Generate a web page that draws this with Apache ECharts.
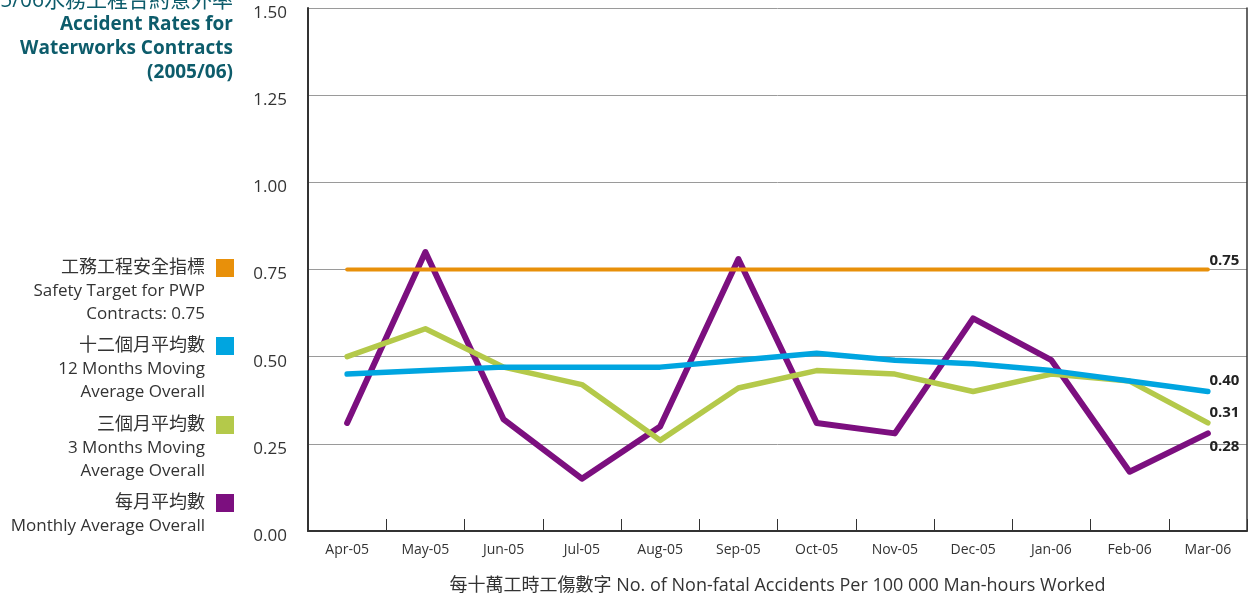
<!DOCTYPE html>
<html>
<head>
<meta charset="utf-8">
<script src="https://cdn.jsdelivr.net/npm/echarts@6/dist/echarts.min.js"></script>
<style>
  html, body { margin: 0; padding: 0; background: #ffffff; }
  #chart { width: 1260px; height: 598px; }
</style>
</head>
<body>
<div id="chart"></div>
<script>
// Monthly reporting periods, April 2005 to March 2006
const months = ['Apr-05', 'May-05', 'Jun-05', 'Jul-05', 'Aug-05', 'Sep-05',
                'Oct-05', 'Nov-05', 'Dec-05', 'Jan-06', 'Feb-06', 'Mar-06'];

// Accident rates per 100 000 man-hours
const safetyTarget   = [0.75, 0.75, 0.75, 0.75, 0.75, 0.75, 0.75, 0.75, 0.75, 0.75, 0.75, 0.75];
const movingAvg12    = [0.45, 0.46, 0.47, 0.47, 0.47, 0.49, 0.51, 0.49, 0.48, 0.46, 0.43, 0.40];
const movingAvg3     = [0.50, 0.58, 0.47, 0.42, 0.26, 0.41, 0.46, 0.45, 0.40, 0.45, 0.43, 0.31];
const monthlyAverage = [0.31, 0.80, 0.32, 0.15, 0.30, 0.78, 0.31, 0.28, 0.61, 0.49, 0.17, 0.28];

const yTicks = [0, 0.25, 0.5, 0.75, 1.0, 1.25, 1.5];

const colors = {
  target: '#E8900A',
  avg12: '#00A5E0',
  avg3: '#B4C94A',
  monthly: '#7C0F7F'
};

const titleLines = ['2005/06水務工程合約意外率', 'Accident Rates for', 'Waterworks Contracts', '(2005/06)'];

const legendItems = [
  { color: colors.target,  lines: ['工務工程安全指標', 'Safety Target for PWP', 'Contracts: 0.75'] },
  { color: colors.avg12,   lines: ['十二個月平均數', '12 Months Moving', 'Average Overall'] },
  { color: colors.avg3,    lines: ['三個月平均數', '3 Months Moving', 'Average Overall'] },
  { color: colors.monthly, lines: ['每月平均數', 'Monthly Average Overall'] }
];

const FONT = '"Open Sans", "Noto Sans CJK TC", sans-serif';

// Put a value label only on the final point of a series
function withEndLabel(values, offsetY) {
  return values.map((v, i) => {
    if (i !== values.length - 1) return v;
    return {
      value: v,
      label: {
        show: true,
        position: 'right',
        distance: 0,
        offset: [1, offsetY],
        formatter: p => p.value.toFixed(2),
        fontFamily: FONT,
        fontWeight: 'bold',
        fontSize: 15,
        color: '#222'
      }
    };
  });
}

function lineSeries(name, values, color, width, z, offsetY) {
  return {
    name: name,
    type: 'line',
    data: withEndLabel(values, offsetY),
    symbol: 'circle',
    symbolSize: 1,
    showSymbol: true,
    itemStyle: { color: color },
    lineStyle: { color: color, width: width, cap: 'round', join: 'round' },
    z: z,
    animation: false
  };
}

// Title block and legend built as graphic elements at the left side
const graphics = [];
titleLines.forEach((t, i) => {
  graphics.push({
    type: 'text',
    right: 1260 - 233,
    top: -9 + i * 24,
    style: {
      text: t,
      font: (i === 0 ? 'normal 21px ' : 'bold 19px ') + FONT,
      fill: '#0D5C6B',
      textAlign: 'right'
    }
  });
});

const legendTops = [259, 337, 416, 494];
legendItems.forEach((item, k) => {
  const top = legendTops[k];
  graphics.push({
    type: 'rect',
    shape: { x: 216, y: top, width: 18, height: 18 },
    style: { fill: item.color }
  });
  item.lines.forEach((t, j) => {
    graphics.push({
      type: 'text',
      x: 205,
      y: top + 9 + j * 23,
      style: {
        text: t,
        font: 'normal ' + (j === 0 ? '18px ' : '17px ') + FONT,
        fill: '#333',
        textAlign: 'right',
        textVerticalAlign: 'middle'
      }
    });
  });
});

const chart = echarts.init(document.getElementById('chart'), null, { renderer: 'canvas' });

chart.setOption({
  backgroundColor: '#ffffff',
  animation: false,
  grid: { left: 308, right: 13, top: 8, bottom: 67, containLabel: false, outerBoundsMode: 'none' },
  xAxis: {
    type: 'category',
    data: months,
    boundaryGap: true,
    axisLine: { show: true, lineStyle: { color: '#333', width: 2 } },
    axisTick: { show: true, inside: true, length: 12, lineStyle: { color: '#333', width: 1 } },
    axisLabel: { color: '#333', fontSize: 14, fontFamily: FONT, margin: 12 },
    name: '每十萬工時工傷數字 No. of Non-fatal Accidents Per 100 000 Man-hours Worked',
    nameLocation: 'middle',
    nameGap: 46,
    nameTextStyle: { color: '#333', fontSize: 18, fontFamily: FONT }
  },
  yAxis: [
    {
      type: 'value',
      min: yTicks[0],
      max: yTicks[yTicks.length - 1],
      interval: 0.25,
      axisLine: { show: true, lineStyle: { color: '#333', width: 2 } },
      axisTick: { show: false },
      axisLabel: {
        color: '#333', fontSize: 17, fontFamily: FONT, margin: 21,
        verticalAlign: 'top',
        lineHeight: 10,
        formatter: v => v.toFixed(2)
      },
      splitLine: { show: true, lineStyle: { color: '#9a9a9a', width: 1 } }
    },
    {
      type: 'value',
      position: 'right',
      min: yTicks[0],
      max: yTicks[yTicks.length - 1],
      interval: 0.25,
      axisLine: { show: true, lineStyle: { color: '#333', width: 1.5 } },
      axisTick: { show: false },
      axisLabel: { show: false },
      splitLine: { show: false }
    }
  ],
  series: [
    lineSeries('Safety Target for PWP Contracts: 0.75', safetyTarget, colors.target, 4, 5, -9),
    lineSeries('12 Months Moving Average Overall', movingAvg12, colors.avg12, 5.5, 4, -11),
    lineSeries('3 Months Moving Average Overall', movingAvg3, colors.avg3, 5.5, 3, -10),
    lineSeries('Monthly Average Overall', monthlyAverage, colors.monthly, 6, 2, 13)
  ],
  graphic: graphics
});
</script>
</body>
</html>
